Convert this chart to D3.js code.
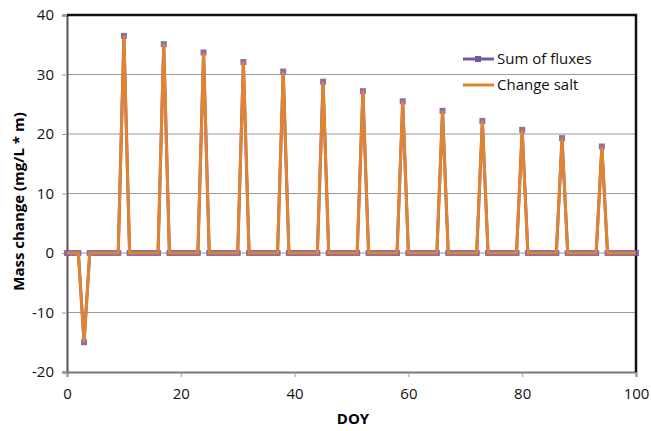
<!DOCTYPE html>
<html><head><meta charset="utf-8">
<script src="https://cdn.jsdelivr.net/npm/d3@7"></script>
<style>body{margin:0;background:#fff}svg{display:block}</style>
</head><body>
<svg id="c" width="651" height="431"></svg>
<script>
const days = d3.range(0, 101);
const dipDay = 3, dipValue = -15;
const peakDays = [10, 17, 24, 31, 38, 45, 52, 59, 66, 73, 80, 87, 94];
const peakValues = [36.5, 35.1, 33.7, 32.1, 30.5, 28.8, 27.2, 25.5, 23.9, 22.2, 20.7, 19.3, 17.9];
const sumOfFluxes = days.map(d => d === dipDay ? dipValue : (peakDays.indexOf(d) >= 0 ? peakValues[peakDays.indexOf(d)] : 0));
const changeSalt = sumOfFluxes.slice();
const xTicks = [0, 20, 40, 60, 80, 100];
const yTicks = [-20, -10, 0, 10, 20, 30, 40];
const seriesNames = ["Sum of fluxes", "Change salt"];

const svg = d3.select("#c");
const L = 67, R = 636, T = 15, B = 372;
const x = d3.scaleLinear().domain([0, 100]).range([L, R]);
const y = d3.scaleLinear().domain([-20, 40]).range([B, T]);
const font = "Open Sans, sans-serif";
const purple = "#7558A0", orange = "#E2832F";
const fmt = d => String(d);

// gridlines
svg.append("g").selectAll("line").data(yTicks.filter(v => v > -20 && v < 40)).join("line")
  .attr("x1", L).attr("x2", R).attr("y1", d => y(d)).attr("y2", d => y(d))
  .attr("stroke", "#9a9a9a").attr("stroke-width", 1.2);

// axes
const yAxis = svg.append("g").attr("transform", `translate(${L},0)`)
  .call(d3.axisLeft(y).tickValues(yTicks).tickFormat(fmt).tickSize(5).tickPadding(8));
yAxis.select(".domain").attr("stroke", "#555").attr("stroke-width", 2);
yAxis.selectAll(".tick line").attr("stroke", "#999");
yAxis.selectAll("text").attr("font-family", font).attr("font-size", 15).attr("fill", "#111");

const xAxis = svg.append("g").attr("transform", `translate(0,${B})`)
  .call(d3.axisBottom(x).tickValues(xTicks).tickFormat(fmt).tickSize(5).tickPadding(11));
xAxis.select(".domain").attr("stroke", "#777").attr("stroke-width", 2);
xAxis.selectAll(".tick line").attr("stroke", "#999");
xAxis.selectAll("text").attr("font-family", font).attr("font-size", 15).attr("fill", "#111");

// top & right frame
svg.append("path").attr("d", `M${L},${T}H${R}V${B}`).attr("fill", "none")
  .attr("stroke", "#111").attr("stroke-width", 2.5);

// series
const line = d3.line().x((d, i) => x(days[i])).y(d => y(d));
svg.append("path").datum(sumOfFluxes).attr("d", line).attr("fill", "none")
  .attr("stroke", purple).attr("stroke-width", 3);
svg.append("g").selectAll("rect").data(sumOfFluxes).join("rect")
  .attr("x", (d, i) => x(days[i]) - 3).attr("y", d => y(d) - 3)
  .attr("width", 6).attr("height", 6).attr("fill", purple).attr("opacity", 0.85);
svg.append("path").datum(changeSalt).attr("d", line).attr("fill", "none")
  .attr("stroke", orange).attr("stroke-width", 3).attr("stroke-linejoin", "miter");

// legend
const lg = svg.append("g");
[0, 1].forEach(i => {
  const yy = 59 + i * 26;
  lg.append("line").attr("x1", 463).attr("x2", 494).attr("y1", yy).attr("y2", yy)
    .attr("stroke", i === 0 ? purple : orange).attr("stroke-width", 3);
  if (i === 0) lg.append("rect").attr("x", 475).attr("y", yy - 3).attr("width", 6).attr("height", 6).attr("fill", purple);
  lg.append("text").attr("x", 497).attr("y", yy + 5).text(seriesNames[i])
    .attr("font-family", font).attr("font-size", 15).attr("fill", "#111");
});

// titles
svg.append("text").attr("x", 353).attr("y", 424).attr("text-anchor", "middle")
  .attr("font-family", font).attr("font-weight", "bold").attr("font-size", 15).text("DOY");
svg.append("text").attr("transform", `translate(24,${(T + B) / 2 + 8}) rotate(-90)`).attr("text-anchor", "middle")
  .attr("font-family", font).attr("font-weight", "bold").attr("font-size", 15).text("Mass change (mg/L * m)");
</script>
</body></html>
